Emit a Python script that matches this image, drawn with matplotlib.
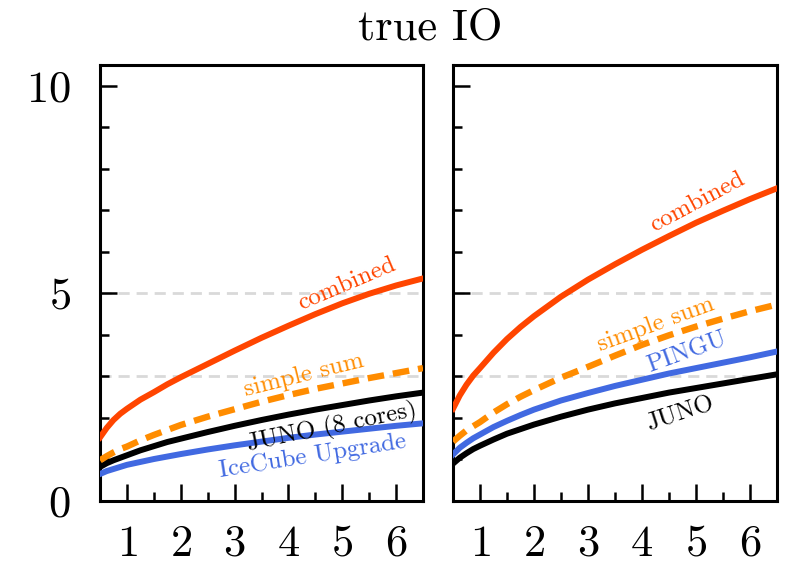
import matplotlib
matplotlib.use("Agg")
import matplotlib.pyplot as plt

plt.rcParams["font.family"] = "serif"
plt.rcParams["font.serif"] = ["cmr10"]
plt.rcParams["mathtext.fontset"] = "cm"
plt.rcParams["axes.formatter.use_mathtext"] = True

# exposure grid (years)
years = [0.5, 0.625, 0.75, 0.875, 1, 1.25, 1.5, 1.75, 2, 2.5, 3, 3.5, 4, 4.5, 5, 5.5, 6, 6.5]

# left panel: JUNO (8 cores) + IceCube Upgrade
left_combined = [1.53, 1.76, 1.95, 2.10, 2.22, 2.44, 2.62, 2.81, 2.98, 3.30, 3.62, 3.93,
                 4.22, 4.50, 4.76, 4.99, 5.19, 5.36]
left_sum = [0.98, 1.08, 1.17, 1.25, 1.31, 1.46, 1.59, 1.71, 1.83, 2.03, 2.21, 2.39,
            2.55, 2.70, 2.83, 2.96, 3.08, 3.20]
left_juno = [0.82, 0.91, 0.98, 1.04, 1.10, 1.22, 1.32, 1.42, 1.50, 1.66, 1.81, 1.95,
             2.08, 2.20, 2.31, 2.42, 2.52, 2.61]
left_icecube = [0.65, 0.72, 0.77, 0.82, 0.87, 0.94, 1.01, 1.07, 1.13, 1.24, 1.34, 1.43,
                1.52, 1.60, 1.67, 1.74, 1.81, 1.87]

# right panel: JUNO + PINGU
right_combined = [2.22, 2.54, 2.80, 3.02, 3.20, 3.57, 3.90, 4.19, 4.45, 4.92, 5.33, 5.70,
                  6.05, 6.38, 6.70, 6.99, 7.27, 7.53]
right_sum = [1.43, 1.57, 1.70, 1.80, 1.90, 2.13, 2.33, 2.51, 2.67, 2.97, 3.23, 3.50,
             3.76, 3.99, 4.20, 4.39, 4.57, 4.73]
right_pingu = [1.12, 1.28, 1.40, 1.51, 1.60, 1.78, 1.93, 2.07, 2.20, 2.42, 2.60, 2.77,
               2.92, 3.07, 3.20, 3.33, 3.46, 3.60]
right_juno = [0.90, 1.04, 1.15, 1.25, 1.33, 1.48, 1.62, 1.73, 1.84, 2.03, 2.20, 2.35,
              2.48, 2.61, 2.72, 2.83, 2.94, 3.05]

ref_levels = [3, 5]
x_ticks = [1, 2, 3, 4, 5, 6]
y_ticks = [0, 5, 10]

RED = "#ff4500"
ORANGE = "#ff8c00"
BLUE = "#4169e1"


def style_axes(ax, show_ylabels):
    ax.set_xlim(0.5, 6.5)
    ax.set_ylim(0, 10.5)
    ax.set_xticks(x_ticks)
    ax.set_xticks([1.5, 2.5, 3.5, 4.5, 5.5], minor=True)
    ax.set_yticks(y_ticks)
    ax.set_yticks([1, 2, 3, 4, 6, 7, 8, 9], minor=True)
    ax.tick_params(which="both", direction="in", width=1.8, top=False, right=False)
    ax.tick_params(which="major", length=12.5, pad=21, labelsize=32)
    ax.tick_params(axis="x", which="major", pad=17)
    ax.tick_params(which="minor", length=6.5)
    if not show_ylabels:
        ax.set_yticklabels([])
    for sp in ax.spines.values():
        sp.set_linewidth(2.2)
    for lvl in ref_levels:
        ax.axhline(lvl, color="#d9d9d9", lw=2.0, dashes=(4, 2.5), zorder=1)


def draw_curves(ax, combined, total, first, second):
    ax.plot(years, second[1], color=second[0], lw=4.3, zorder=3)
    ax.plot(years, first[1], color=first[0], lw=4.3, zorder=3)
    ax.plot(years, total, color=ORANGE, lw=4.6, dashes=(2.6, 1.4), zorder=3)
    ax.plot(years, combined, color=RED, lw=4.3, zorder=3)


fig = plt.figure(figsize=(7.9, 5.68), dpi=100)
ax1 = fig.add_axes([0.1266, 0.118, 0.4089, 0.7676])
ax2 = fig.add_axes([0.5734, 0.118, 0.4101, 0.7676])

style_axes(ax1, True)
style_axes(ax2, False)

draw_curves(ax1, left_combined, left_sum, ("black", left_juno), (BLUE, left_icecube))
draw_curves(ax2, right_combined, right_sum, ("black", right_juno), (BLUE, right_pingu))

lbl = dict(ha="center", va="center", rotation_mode="anchor", fontsize=18, zorder=4)
ax1.text(5.09, 5.22, "combined", color=RED, rotation=23, **lbl)
ax1.text(4.28, 3.02, "simple sum", color=ORANGE, rotation=14, **lbl)
ax1.text(4.81, 1.76, "JUNO (8 cores)", color="black", rotation=11.5, **lbl)
ax1.text(4.45, 1.09, "IceCube Upgrade", color=BLUE, rotation=9, **lbl)

ax2.text(5.02, 7.20, "combined", color=RED, rotation=28, **lbl)
ax2.text(4.25, 4.25, "simple sum", color=ORANGE, rotation=20, **lbl)
ax2.text(4.83, 3.57, "PINGU", color=BLUE, rotation=20, **lbl)
ax2.text(4.70, 2.10, "JUNO", color="black", rotation=18, **lbl)

fig.text(0.544, 0.95, "true IO", ha="center", va="center", fontsize=32)

fig.savefig("out.png", dpi=100)
